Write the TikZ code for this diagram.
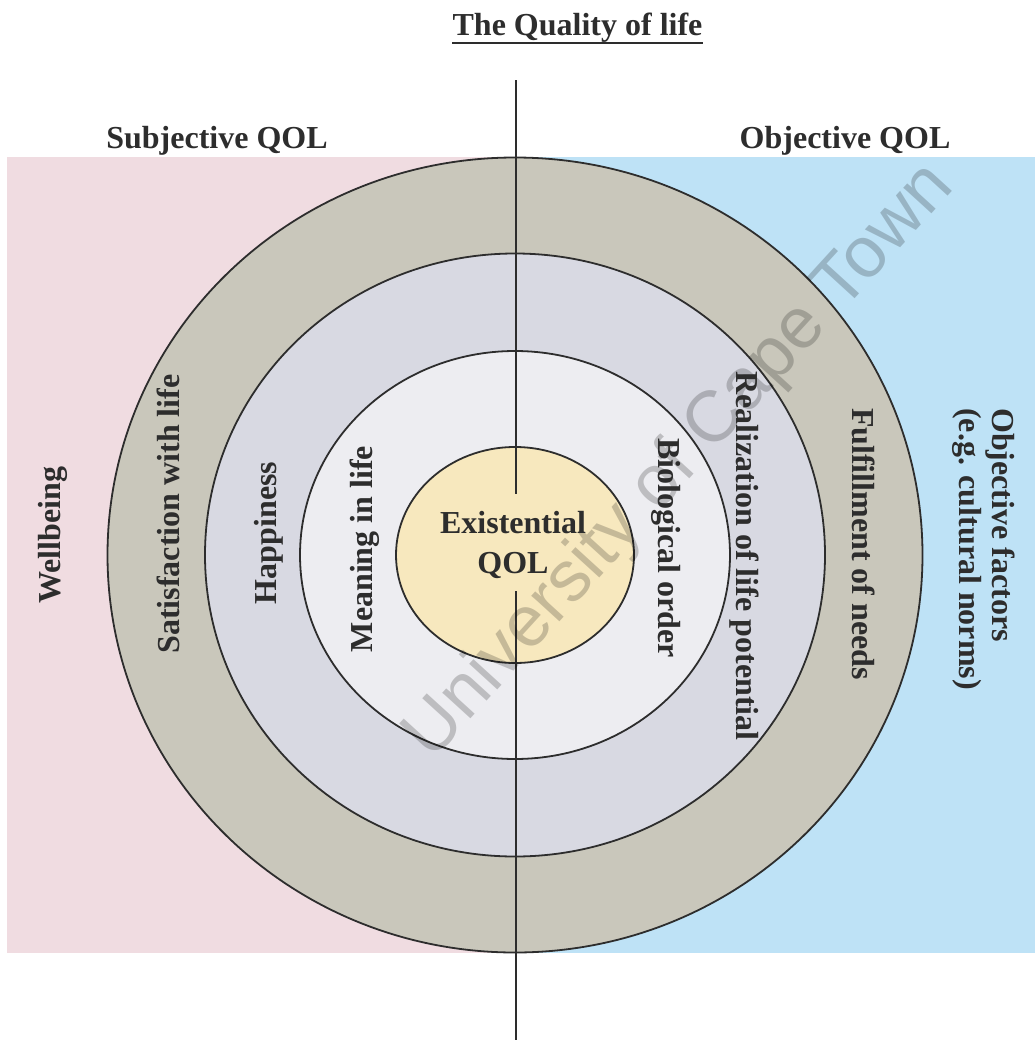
\documentclass[tikz,border=0pt]{standalone}
\usepackage{fontspec}
\setmainfont{Liberation Serif}
\newfontfamily\markfont{Liberation Sans}
\definecolor{pinkbg}{RGB}{240,220,225}
\definecolor{bluebg}{RGB}{190,226,246}
\definecolor{ringA}{RGB}{201,199,187}
\definecolor{ringB}{RGB}{216,217,226}
\definecolor{ringC}{RGB}{237,237,241}
\definecolor{core}{RGB}{247,232,190}
\definecolor{ink}{RGB}{45,45,45}

\begin{document}
\begin{tikzpicture}[x=1pt,y=-1pt,
	ring/.style={draw=ink,line width=1.8pt},
	lbl/.style={text=ink,inner sep=0pt,font=\bfseries\fontsize{32}{33}\selectfont},
	up/.style={lbl,rotate=90,anchor=base},
	down/.style={lbl,rotate=-90,anchor=base}]
	\useasboundingbox (0,0) rectangle (1035,1041);
	% the two halves
	\fill[pinkbg] (7,157) rectangle (516,953);
	\fill[bluebg] (516,157) rectangle (1035,953);
	% rings, outside in
	\coordinate (O) at (515,555);
	\draw[ring,fill=ringA] (O) ellipse [x radius=407.5,y radius=397.5];
	\draw[ring,fill=ringB] (O) ellipse [x radius=310,y radius=301.5];
	\draw[ring,fill=ringC] (O) ellipse [x radius=215,y radius=204];
	\draw[ring,fill=core] (O) ellipse [x radius=119,y radius=108];
	% axis, broken round the centre text
	\coordinate (axtop) at (516,80);
	\coordinate (gaptop) at (516,494);
	\coordinate (gapbot) at (516,591);
	\coordinate (axbot) at (516,1040);
	\draw[ink,line width=1.6pt] (axtop) -- (gaptop);
	\draw[ink,line width=1.6pt] (gapbot) -- (axbot);
	\node[rotate=47.6,text=black,opacity=0.2,inner sep=0pt,
		font=\markfont\fontsize{72}{72}\selectfont] (mark) at (680,462) {University of Cape Town};
	% headings
	\node[lbl,anchor=base] (title) at (577.5,36) {The Quality of life};
	\draw[ink,line width=2pt] ([yshift=-7pt]title.base west) -- ([yshift=-7pt]title.base east);
	\node[lbl,anchor=base] (subj) at (217,148) {Subjective QOL};
	\node[lbl,anchor=base] (obj) at (845,148) {Objective QOL};
	% left side
	\node[up] (well) at (60,535) {Wellbeing};
	\node[up] (satis) at (179,514) {Satisfaction with life};
	\node[up] (happy) at (276,533) {Happiness};
	\node[up] (mean) at (372,549) {Meaning in life};
	% centre
	\node[lbl,align=center,font=\bfseries\fontsize{32}{40}\selectfont] (exist) at (513,545) {Existential\\QOL};
	% right side
	\node[down] (bio) at (658,548) {Biological order};
	\node[down] (real) at (736,556) {Realization of life potential};
	\node[down] (need) at (852,544) {Fulfillment of needs};
	\node[lbl,rotate=-90,anchor=north west,align=left] (factor) at (1015,408) {Objective factors\\(e.g. cultural norms)};
\end{tikzpicture}
\end{document}
